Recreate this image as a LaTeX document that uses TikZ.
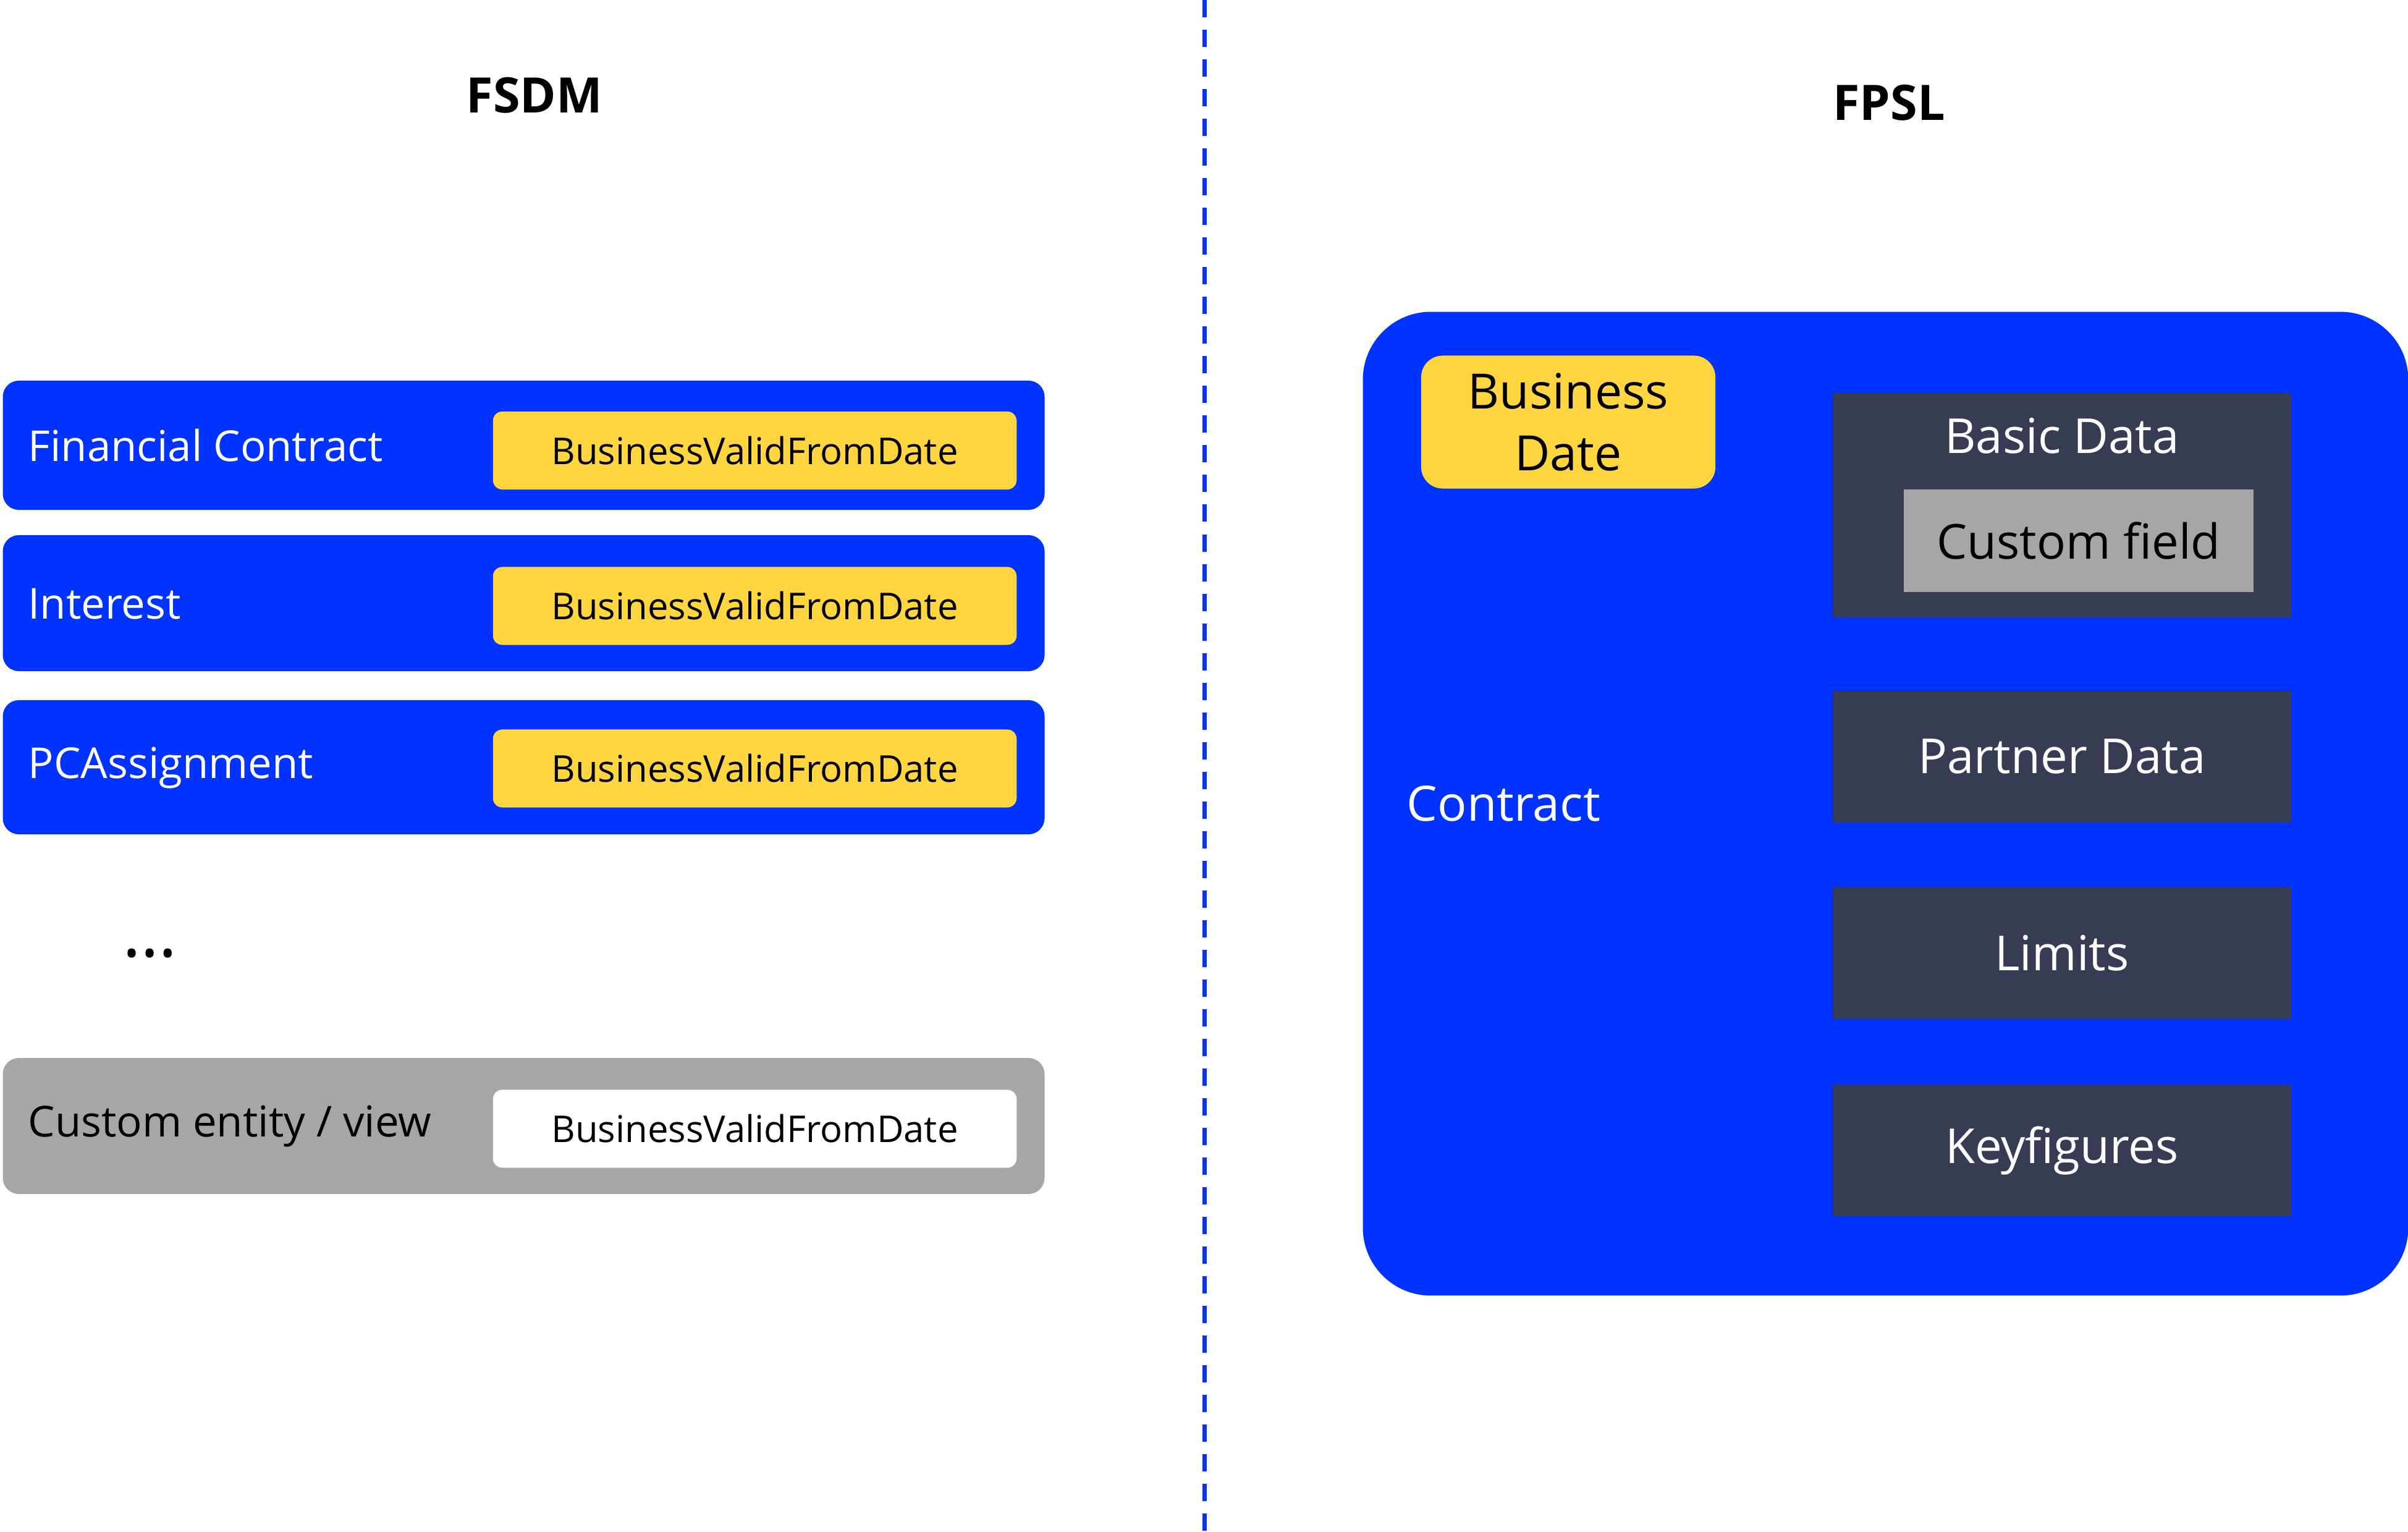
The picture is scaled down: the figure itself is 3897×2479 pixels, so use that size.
\documentclass[tikz,border=0pt]{standalone}
\usepackage{fontspec}
\setmainfont{Open Sans}
\definecolor{blueC}{RGB}{0,51,255}
\definecolor{yellowC}{RGB}{255,213,64}
\definecolor{navyC}{RGB}{55,59,84}
\definecolor{grayC}{RGB}{166,166,166}
\tikzset{
  box/.style={inner sep=0pt, outer sep=0pt, draw=none},
  rowbox/.style={box, fill=blueC, rounded corners=2.6mm},
  datebox/.style={box, fill=yellowC, rounded corners=1.5mm, minimum width=84.7mm, minimum height=12.6mm, font=\fontsize{17}{20}\selectfont, text=black},
  rowlabel/.style={anchor=west, inner sep=0pt, text=white, font=\fontsize{19.6}{23}\selectfont},
  sub/.style={box, fill=navyC, minimum width=74.2mm, text=white, font=\fontsize{22.2}{28}\selectfont},
  title/.style={inner sep=0pt, font=\fontsize{22.5}{27}\selectfont\bfseries},
}
\begin{document}
\begin{tikzpicture}[x=0.01cm, y=-0.01cm]
\useasboundingbox (0,0) rectangle (3897,2479);
% divider
\coordinate (dtop) at (1949,0);
\coordinate (dbot) at (1949,2479);
\draw[blueC, line width=0.7mm, dash pattern=on 2.8mm off 2mm] (dtop) -- (dbot);
% titles
\node[title] (fsdm) at (865,154) {FSDM};
\node[title] (fpsl) at (3057,166) {FPSL};
% left rows
\node[rowbox, minimum width=168.5mm, minimum height=20.9mm] (r1) at (847.5,720.5) {};
\node[datebox] (d1) at (1221.5,729) {BusinessValidFromDate};
\node[rowlabel] (l1) at (45,721) {Financial Contract};
\node[rowbox, minimum width=168.5mm, minimum height=22mm] (r2) at (847.5,976) {};
\node[datebox] (d2) at (1221.5,980.5) {BusinessValidFromDate};
\node[rowlabel] (l2) at (45,977) {Interest};
\node[rowbox, minimum width=168.5mm, minimum height=21.7mm] (r3) at (847.5,1241.5) {};
\node[datebox] (d3) at (1221.5,1243.5) {BusinessValidFromDate};
\node[rowlabel] (l3) at (45,1242) {PCAssignment};
\node[inner sep=0pt, font=\fontsize{32}{36}\selectfont] (dots) at (243,1543) {…};
\node[rowbox, fill=grayC, minimum width=168.5mm, minimum height=22mm] (r4) at (847.5,1822) {};
\node[datebox, fill=white] (d4) at (1221.5,1826.5) {BusinessValidFromDate};
\node[rowlabel, text=black] (l4) at (45,1822) {Custom entity / view};
% right: contract
\node[box, fill=blueC, rounded corners=11mm, minimum width=169.1mm, minimum height=159.1mm] (contract) at (3051.5,1300.5) {};
\node[rowlabel, font=\fontsize{22.4}{28}\selectfont] (clabel) at (2276,1300) {Contract};
\node[box, fill=yellowC, rounded corners=3.5mm, minimum width=47.6mm, minimum height=21.5mm, align=center, font=\fontsize{22.4}{28.2}\selectfont] (bdate) at (2538,683) {Business\\Date};
\node[sub, minimum height=36.2mm] (basic) at (3337,817.5) {};
\node[inner sep=0pt, text=white, font=\fontsize{22.2}{28}\selectfont] (basiclabel) at (3337,705) {Basic Data};
\node[box, fill=grayC, minimum width=56.6mm, minimum height=16.6mm, font=\fontsize{22.2}{28}\selectfont] (custom) at (3364,875) {Custom field};
\node[sub, minimum height=21.3mm] (partner) at (3337,1224.5) {Partner Data};
\node[sub, minimum height=21.4mm] (limits) at (3337,1542) {Limits};
\node[sub, minimum height=21.3mm] (keyfig) at (3337,1861.5) {Keyfigures};
\end{tikzpicture}
\end{document}
